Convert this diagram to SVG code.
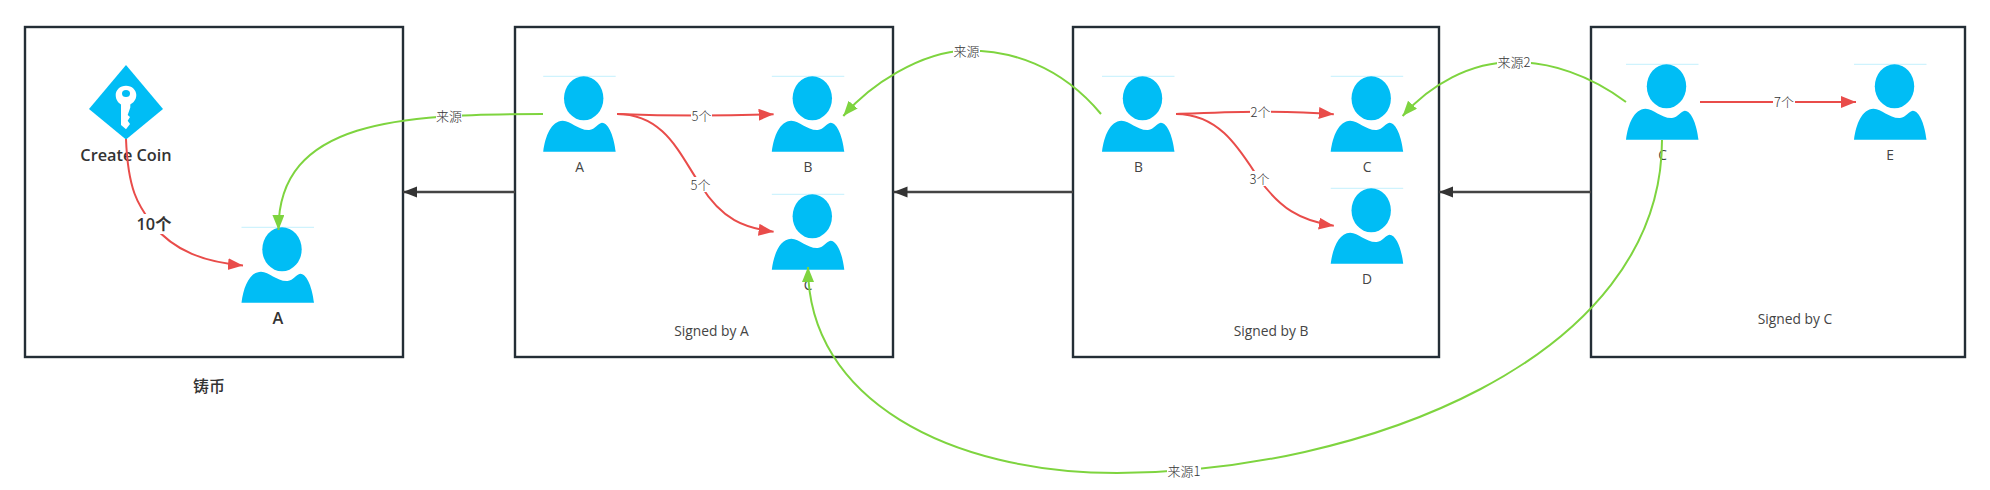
<svg xmlns="http://www.w3.org/2000/svg" width="1990" height="490" viewBox="0 0 1990 490">
<style>
.box{fill:#fff;stroke:#242e36;stroke-width:2.4}
.t{font-family:"Open Sans","Noto Sans CJK SC",sans-serif;font-size:13.8px;fill:#444;text-anchor:middle}
.b{font-weight:600;font-size:16.300px;fill:#333}
.cn{font-family:"Noto Sans CJK SC",sans-serif;font-size:16px;font-weight:500;fill:#333;text-anchor:middle}
.lab{font-family:"Noto Sans CJK SC","Open Sans",sans-serif;font-size:13px;fill:#333;text-anchor:middle;font-weight:300}
.red{fill:none;stroke:#e94c4a;stroke-width:2}
.grn{fill:none;stroke:#7ed43f;stroke-width:2}
.blk{fill:none;stroke:#444;stroke-width:2.400}
.bg{fill:#fff}
</style>
<defs>
<g id="person">
<path d="M0,0.3H72.5" stroke="#c4f0fd" stroke-width="1" fill="none"/>
<ellipse cx="40.5" cy="22.3" rx="19.7" ry="22" fill="#00bdf5"/>
<path d="M0,75.7C2,60 8,45 19.5,44.7C28,44.7 35,54.5 46,54C52,53.5 55,47 58.7,46.7C66,47 71,62 72.5,75.7Z" fill="#00bdf5"/>
</g>
<marker id="mr" markerUnits="userSpaceOnUse" markerWidth="16" markerHeight="14" refX="15" refY="6" orient="auto"><path d="M0,0L15,6L0,12Z" fill="#e94c4a"/></marker>
<marker id="mg" markerUnits="userSpaceOnUse" markerWidth="16" markerHeight="14" refX="15" refY="6" orient="auto"><path d="M0,0L15,6L0,12Z" fill="#7ed43f"/></marker>
<marker id="mk" markerUnits="userSpaceOnUse" markerWidth="16" markerHeight="14" refX="14" refY="5.5" orient="auto"><path d="M0,0L14,5.5L0,11Z" fill="#333"/></marker>
</defs>

<g id="box-mint"><rect class="box" x="25" y="27" width="378" height="330"/><text class="cn" x="209" y="392">铸币</text></g>
<g id="box-a"><rect class="box" x="515" y="27" width="378" height="330"/><text class="t" x="711.5" y="336">Signed by A</text></g>
<g id="box-b"><rect class="box" x="1073" y="27" width="366" height="330"/><text class="t" x="1271" y="336">Signed by B</text></g>
<g id="box-c"><rect class="box" x="1591" y="27" width="374" height="330"/><text class="t" x="1795" y="324">Signed by C</text></g>

<g id="create-coin">
<path d="M126,65L163,109L126,139.5L89,109Z" fill="#00bdf5"/>
<path d="M126,85.7C132,85.7 136.300,90 136.300,95C136.300,100 133,103 130.300,104.500V107.500L127.700,115L130,117L127.700,120.700L130,124L126,129.300L121,125V104.500C118.500,103 115.700,100 115.700,95C115.700,90 120,85.700 126,85.700Z" fill="#fff"/>
<ellipse cx="126" cy="93.500" rx="4" ry="3.500" fill="#00bdf5"/>
<text class="t b" x="126" y="161">Create Coin</text>
</g>
<g id="mint-a"><use href="#person" x="241.500" y="227"/><text class="t b" x="278" y="324">A</text></g>
<g id="a-a"><use href="#person" x="543.200" y="76"/><text class="t" x="579.500" y="172">A</text></g>
<g id="a-b"><use href="#person" x="771.800" y="76"/><text class="t" x="808" y="172">B</text></g>
<g id="a-c"><use href="#person" x="771.800" y="194"/><text class="t" x="808" y="290">C</text></g>
<g id="b-b"><use href="#person" x="1102" y="76"/><text class="t" x="1138.500" y="172">B</text></g>
<g id="b-c"><use href="#person" x="1330.700" y="76"/><text class="t" x="1367" y="172">C</text></g>
<g id="b-d"><use href="#person" x="1330.700" y="188"/><text class="t" x="1367" y="284">D</text></g>
<g id="c-c"><use href="#person" x="1626" y="64"/><text class="t" x="1662.700" y="160">C</text></g>
<g id="c-e"><use href="#person" x="1854" y="64"/><text class="t" x="1890" y="160">E</text></g>

<g id="connectors">
<path class="blk" d="M515,192H403" marker-end="url(#mk)"/>
<path class="blk" d="M1073,192H893.500" marker-end="url(#mk)"/>
<path class="blk" d="M1591,192H1439" marker-end="url(#mk)"/>

<path class="red" d="M126,139C128,190 138,205 152,224C175,252 205,262 243,265.500" marker-end="url(#mr)"/>
<path class="red" d="M617,114C670,116 720,116 773.600,114.300" marker-end="url(#mr)"/>
<path class="red" d="M617,114C665,114 680,155 700.500,185C722,220 745,228 773.600,231.700" marker-end="url(#mr)"/>
<path class="red" d="M1176,114C1230,112 1280,110 1333.800,114.300" marker-end="url(#mr)"/>
<path class="red" d="M1176,114C1220,114 1240,150 1259,179C1280,208 1300,221 1333.800,225.700" marker-end="url(#mr)"/>
<path class="red" d="M1700,102H1856" marker-end="url(#mr)"/>

<path class="grn" d="M543,114C400,114 278,120 278.500,230" marker-end="url(#mg)"/>
<path class="grn" d="M1101,114C1060,65 1010,50 966,50.500C920,52 870,85 843.300,116" marker-end="url(#mg)"/>
<path class="grn" d="M1626,102C1590,75 1550,62 1514,62C1470,62 1430,85 1402.600,116" marker-end="url(#mg)"/>
<path class="grn" d="M1662,140C1662,360 1360,473 1117,473C950,473 808,400 808,267" marker-end="url(#mg)"/>

<rect class="bg" x="136" y="214" width="36" height="20"/><text class="t b" x="154" y="230">10个</text>
<rect class="bg" x="436" y="107" width="26" height="18"/><text class="lab" x="449" y="120.500">来源</text>
<rect class="bg" x="691" y="108" width="21" height="16"/><text class="lab" x="701.500" y="120.500">5个</text>
<rect class="bg" x="690" y="177" width="21" height="15"/><text class="lab" x="700.500" y="189.500">5个</text>
<rect class="bg" x="953" y="43" width="27" height="15"/><text class="lab" x="966.500" y="55.500">来源</text>
<rect class="bg" x="1250" y="105" width="21" height="14"/><text class="lab" x="1260.500" y="116.500">2个</text>
<rect class="bg" x="1249" y="171" width="21" height="15"/><text class="lab" x="1259.500" y="183.500">3个</text>
<rect class="bg" x="1497" y="55" width="34" height="14"/><text class="lab" x="1514" y="66.500">来源2</text>
<rect class="bg" x="1773" y="95" width="22" height="14"/><text class="lab" x="1784" y="106.500">7个</text>
<rect class="bg" x="1167" y="464" width="34" height="14"/><text class="lab" x="1184" y="475.500">来源1</text>
</g>
</svg>
